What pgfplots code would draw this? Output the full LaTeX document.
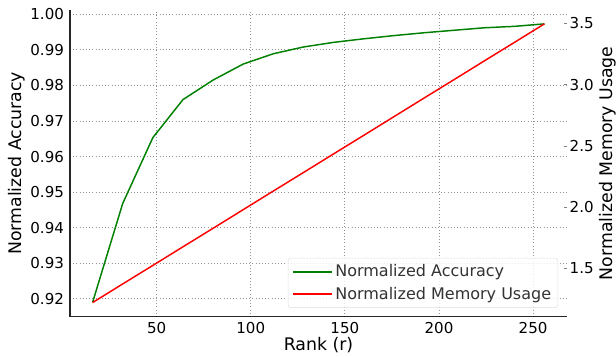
\documentclass[border=0pt]{standalone}
\usepackage{pgfplots}
\pgfplotsset{compat=1.18}
\usepackage{fontspec}
\setmainfont{DejaVu Sans}
\definecolor{mgreen}{RGB}{0,128,0}
\definecolor{mred}{RGB}{255,0,0}
\definecolor{spine}{RGB}{38,38,38}
\begin{document}
\begin{tikzpicture}
\pgfplotsset{
  every axis/.append style={
    scale only axis,
    width=372.75pt, height=229.9pt,
    xmin=4, xmax=268,
    /pgf/number format/assume math mode=true,
    tick label style={font=\fontsize{11.3}{13}\selectfont, text=black},
    label style={font=\fontsize{13}{15}\selectfont},
  }
}
\begin{axis}[
  name=ax1,
  axis x line*=bottom, axis y line*=left,
  axis line style={spine, line width=1.1pt, -},
  ymin=0.9150, ymax=1.0012,
  xtick={50,100,150,200,250},
  ytick={0.92,0.93,0.94,0.95,0.96,0.97,0.98,0.99,1.00},
  yticklabel style={/pgf/number format/fixed, /pgf/number format/fixed zerofill, /pgf/number format/precision=2},
  grid=major,
  major grid style={gray!85, dotted, line width=0.65pt},
  tick style={draw=none},
  xlabel={Rank (r)}, ylabel={Normalized Accuracy},
  xticklabel style={yshift=-1pt},
  yticklabel style={xshift=-1pt},
  ylabel style={yshift=-3pt},
  xlabel style={yshift=4pt},
]
\addplot[mgreen, line width=1.1pt] coordinates {
(16,0.9190) (32,0.9468) (48,0.9653) (64,0.9760) (80,0.9815) (96,0.9860)
(112,0.9889) (128,0.9908) (144,0.9921) (160,0.9931) (176,0.9940) (192,0.9948)
(208,0.9955) (224,0.9962) (240,0.9966) (256,0.9973)
};
\end{axis}
\begin{axis}[
  axis x line=none, axis y line*=right,
  axis line style={draw=none},
  ymin=1.108, ymax=3.609,
  ytick={1.5,2.0,2.5,3.0,3.5},
  yticklabel style={/pgf/number format/fixed, /pgf/number format/fixed zerofill, /pgf/number format/precision=1, xshift=-1.5pt},
  tick style={gray, line width=0.6pt},
  major tick length=2pt,
  ylabel={Normalized Memory Usage},
  ylabel style={yshift=3pt},
  legend style={at={(0.982,0.028)}, anchor=south east, draw=gray!25, rounded corners=2pt,
    fill=white, fill opacity=0.8, text opacity=1, font=\fontsize{12}{14}\selectfont,
    text=black!80, inner sep=3pt, row sep=2pt, cells={anchor=west}},
  legend cell align=left,
  legend image code/.code={\draw[#1] (0cm,0cm) -- (0.82cm,0cm); \path (0.82cm,0cm) -- (1.02cm,0cm);},
]
\addlegendimage{mgreen, line width=1.3pt}
\addlegendentry{Normalized Accuracy}
\addplot[mred, line width=1.1pt, forget plot] coordinates {
(16,1.222) (32,1.374) (48,1.525) (64,1.677) (80,1.828) (96,1.980)
(112,2.132) (128,2.283) (144,2.435) (160,2.586) (176,2.738) (192,2.890)
(208,3.041) (224,3.193) (240,3.344) (256,3.496)
};
\addlegendimage{mred, line width=1.3pt}
\addlegendentry{Normalized Memory Usage}
\end{axis}
\pgfresetboundingbox
\path[use as bounding box] ([xshift=-52.5pt,yshift=-29.6pt]ax1.south west) rectangle ([xshift=36.75pt,yshift=7.5pt]ax1.north east);
\end{tikzpicture}
\end{document}
